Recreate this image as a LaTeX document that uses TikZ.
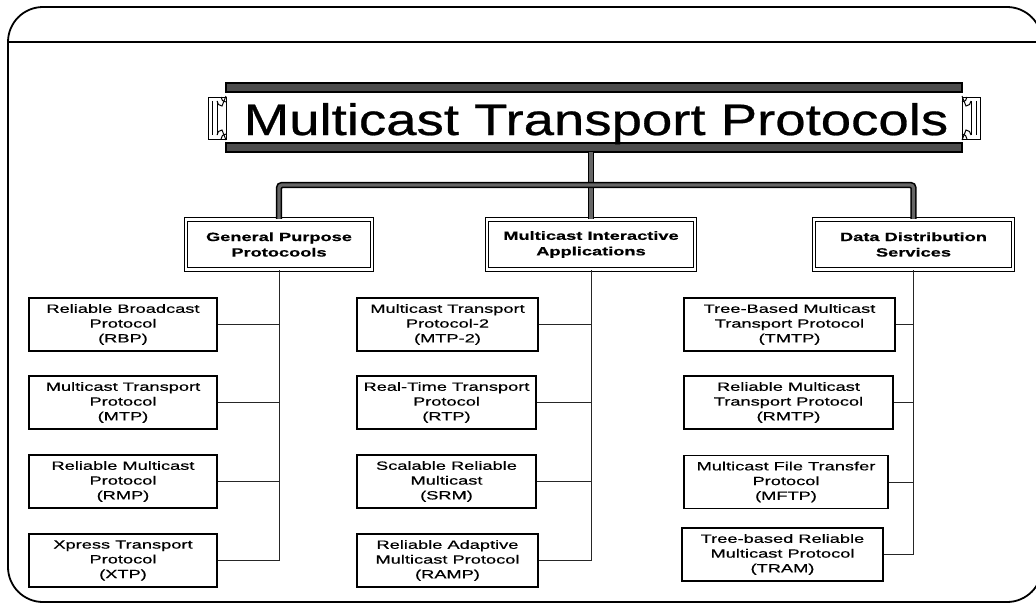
\documentclass[tikz,border=0pt]{standalone}
\usepackage{fontspec}
\setmainfont{Liberation Sans}
\newfontfamily\titlefont[FakeStretch=1.24,FakeBold=0.6]{Liberation Sans}
\newfontfamily\boxfont[FakeStretch=1.52,FakeBold=0.6]{Liberation Sans}
\usetikzlibrary{calc}
\begin{document}
\begin{tikzpicture}[x=1pt,y=-1pt,
  subbox/.style={draw, line width=1.1pt, align=center, inner sep=0pt, minimum height=53pt,
    font=\boxfont\fontsize{12}{14.8}\selectfont},
  catbox/.style={draw, line width=1.1pt, double, double distance=2.4pt, align=center, inner sep=0pt,
    minimum height=50pt, font=\boxfont\bfseries\fontsize{12}{15.5}\selectfont},
  link/.style={line width=0.8pt, black!85},
  trunk/.style={line width=1.6pt, double=black!60, double distance=3.2pt, rounded corners=3pt},
  band/.style={line width=1.2pt, fill=black!70},
  capline/.style={line width=1pt}
]
\useasboundingbox (0,0) rectangle (1036,603);
% outer frame
\begin{scope}
\clip (0,0) rectangle (1036,603);
\draw[line width=1.8pt, rounded corners=35pt] (8,7) rectangle (1042,602);
\draw[line width=1.8pt] (8,42) -- (1036,42);
\end{scope}

% title box
\draw[band] (226,83) rectangle (962,92);
\draw[band] (226,143) rectangle (962,152);
\draw[capline] (208,97) rectangle (226,139);
\draw[capline] (212,101) -- (212,135);
\draw[capline] (217,101) -- (217,135);
\draw[capline] (217,101) arc (180:90:5) -- (226,96);
\draw[capline] (217,135) arc (180:270:5) -- (226,140);
\draw[capline] (221,97) arc (180:90:5);
\draw[capline] (221,139) arc (180:270:5);
\draw[capline] (962,97) rectangle (980,139);
\draw[capline] (976,101) -- (976,135);
\draw[capline] (971,101) -- (971,135);
\draw[capline] (971,101) arc (0:90:5) -- (962,96);
\draw[capline] (971,135) arc (0:-90:5) -- (962,140);
\draw[capline] (967,97) arc (0:90:5);
\draw[capline] (967,139) arc (0:-90:5);
\node[font=\titlefont\fontsize{44}{48}\selectfont, anchor=base, inner sep=0pt] (title) at (596,135) {Multicast Transport Protocols};
\coordinate (tbot) at (591,152);
\coordinate (barmid) at (591,185);

% categories
\node[catbox, minimum width=186pt] (gen) at (279,244.5) {General Purpose\\Protocools};
\node[catbox, minimum width=208pt] (mid) at (591,244.5) {Multicast Interactive\\Applications};
\node[catbox, minimum width=199pt] (data) at (913.5,244.5) {Data Distribution\\Services};

\draw[trunk] (tbot) -- (mid.north);
\draw[trunk] (gen.north) |- (barmid) -| (data.north);

% column 1
\node[subbox, minimum width=188pt] (rbp) at (123,324.5) {Reliable Broadcast\\Protocol\\(RBP)};
\node[subbox, minimum width=188pt] (mtp) at (123,402.5) {Multicast Transport\\Protocol\\(MTP)};
\node[subbox, minimum width=188pt] (rmp) at (123,481.5) {Reliable Multicast\\Protocol\\(RMP)};
\node[subbox, minimum width=188pt] (xtp) at (123,560.5) {Xpress Transport\\Protocol\\(XTP)};
\draw[link] (gen.south) -- (gen.south |- xtp.east);
\foreach \n in {rbp,mtp,rmp,xtp} \draw[link] (\n.east) -- (\n.east -| gen.south);

% column 2
\node[subbox, minimum width=181pt] (mtp2) at (447.5,324.5) {Multicast Transport\\Protocol-2\\(MTP-2)};
\node[subbox, minimum width=179pt] (rtp) at (446.5,402.5) {Real-Time Transport\\Protocol\\(RTP)};
\node[subbox, minimum width=179pt] (srm) at (446.5,481.5) {Scalable Reliable\\Multicast\\(SRM)};
\node[subbox, minimum width=181pt] (ramp) at (447.5,560.5) {Reliable Adaptive\\Multicast Protocol\\(RAMP)};
\draw[link] (mid.south) -- (mid.south |- ramp.east);
\foreach \n in {mtp2,rtp,srm,ramp} \draw[link] (\n.east) -- (\n.east -| mid.south);

% column 3
\node[subbox, minimum width=211pt] (tmtp) at (789.5,324.5) {Tree-Based Multicast\\Transport Protocol\\(TMTP)};
\node[subbox, minimum width=209pt] (rmtp) at (788.5,402.5) {Reliable Multicast\\Transport Protocol\\(RMTP)};
\node[subbox, minimum width=204pt] (mftp) at (786,482) {Multicast File Transfer\\Protocol\\(MFTP)};
\node[subbox, minimum width=201pt] (tram) at (782.5,554.5) {Tree-based Reliable\\Multicast Protocol\\(TRAM)};
\draw[link] (data.south) -- (data.south |- tram.east);
\foreach \n in {tmtp,rmtp,mftp,tram} \draw[link] (\n.east) -- (\n.east -| data.south);
\end{tikzpicture}
\end{document}
